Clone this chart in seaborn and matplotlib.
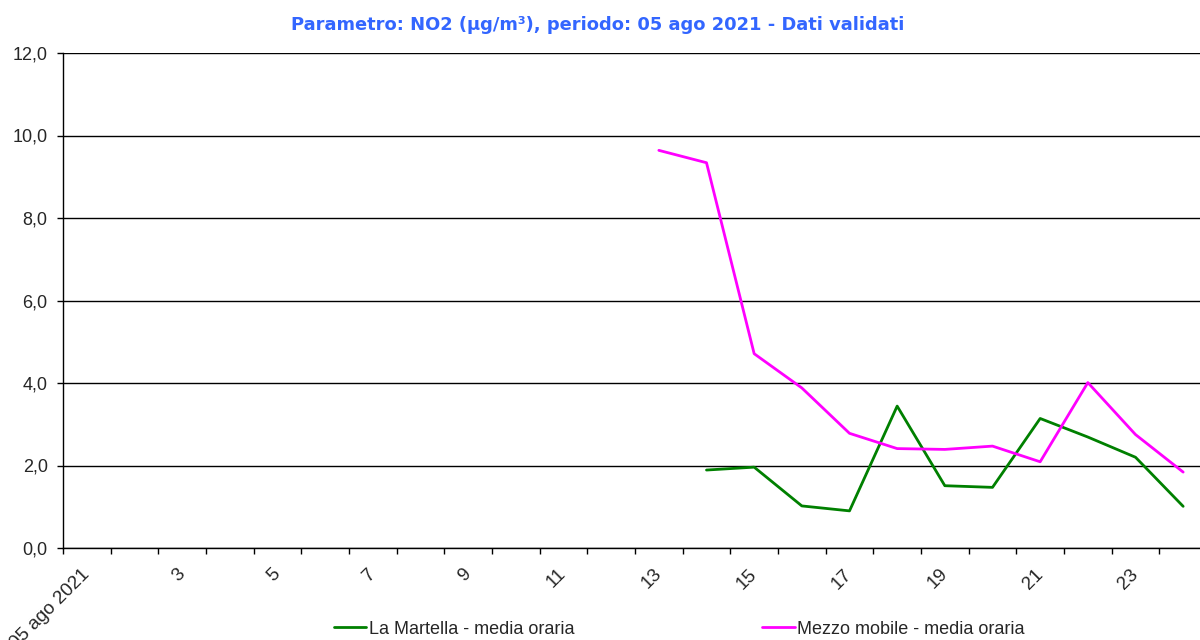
import matplotlib
matplotlib.use("Agg")
import matplotlib.pyplot as plt
import seaborn as sns
import pandas as pd
from matplotlib.ticker import FuncFormatter, FixedLocator

# ---- data ----
hours_martella = [14, 15, 16, 17, 18, 19, 20, 21, 22, 23, 24]
values_martella = [1.89, 1.96, 1.02, 0.90, 3.44, 1.51, 1.47, 3.14, 2.69, 2.20, 1.01]
hours_mobile = [13, 14, 15, 16, 17, 18, 19, 20, 21, 22, 23, 24]
values_mobile = [9.64, 9.34, 4.71, 3.88, 2.78, 2.41, 2.39, 2.47, 2.09, 4.01, 2.75, 1.84]
series_names = ["La Martella - media oraria", "Mezzo mobile - media oraria"]
series_colors = ["#008000", "#FF00FF"]
label_hours = [1, 3, 5, 7, 9, 11, 13, 15, 17, 19, 21, 23]
label_texts = ["05 ago 2021", "3", "5", "7", "9", "11", "13", "15", "17", "19", "21", "23"]
title_text = "Parametro: NO2 (\u00b5g/m\u00b3), periodo: 05 ago 2021 - Dati validati"

df = pd.concat([
    pd.DataFrame({"ora": hours_martella, "valore": values_martella, "serie": series_names[0]}),
    pd.DataFrame({"ora": hours_mobile, "valore": values_mobile, "serie": series_names[1]}),
])

sns.set_style("white")
plt.rcParams["font.family"] = ["Liberation Sans", "DejaVu Sans"]

fig = plt.figure(figsize=(12, 6.4), dpi=100)
ax = fig.add_axes([63 / 1200, 1 - 548 / 640, (1207 - 63) / 1200, (548 - 53) / 640])

sns.lineplot(data=df, x="ora", y="valore", hue="serie", palette=dict(zip(series_names, series_colors)),
             linewidth=2.0, ax=ax, legend=True)

ax.set_xlim(0.5, 24.5)
ax.set_ylim(0, 12)
ax.set_yticks([0, 2, 4, 6, 8, 10, 12])
ax.yaxis.set_major_formatter(FuncFormatter(lambda v, p: f"{v:.1f}".replace(".", ",")))
ax.yaxis.grid(True, color="black", linewidth=1.0)
ax.xaxis.grid(False)
ax.set_axisbelow(True)

ax.xaxis.set_major_locator(FixedLocator([h + 0.5 for h in range(0, 25)]))
ax.set_xticklabels([])
ax.xaxis.set_minor_locator(FixedLocator(label_hours))
ax.set_xticklabels(label_texts, minor=True, rotation=45, ha="right", va="center",
                   rotation_mode="anchor", fontsize=13.5)
ax.tick_params(axis="x", which="major", direction="out", length=4, width=1, color="black", bottom=True)
ax.tick_params(axis="x", which="minor", length=0, pad=17)
ax.tick_params(axis="y", direction="out", length=4, width=1, color="black", left=True, pad=7, labelsize=13)

for s in ["top", "right"]:
    ax.spines[s].set_visible(False)
for s in ["left", "bottom"]:
    ax.spines[s].set_color("black")
    ax.spines[s].set_linewidth(1.0)

ax.set_xlabel("")
ax.set_ylabel("")

handles, labels = ax.get_legend_handles_labels()
ax.get_legend().remove()
fig.legend(handles, labels, loc="center", bbox_to_anchor=(0.566, 0.017), ncol=2, frameon=False,
           fontsize=13, handlelength=1.8, handletextpad=0.15, columnspacing=10.4)

fig.text(0.498, 0.961, title_text, ha="center", va="center", fontsize=12.9, fontweight="bold",
         color="#3366FF", family=["DejaVu Sans"])

fig.savefig("out.png", dpi=100)
